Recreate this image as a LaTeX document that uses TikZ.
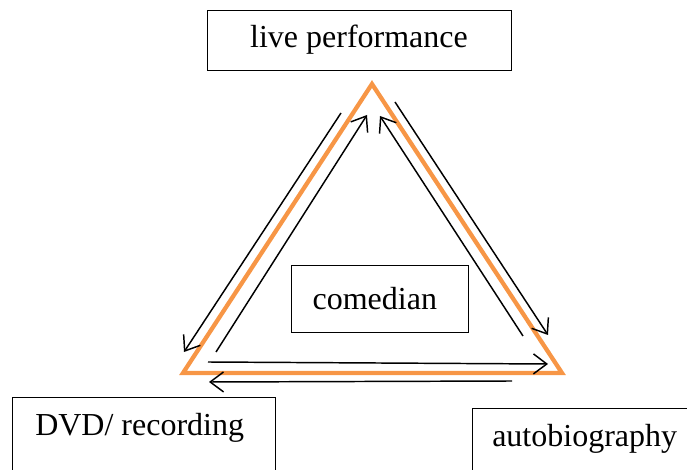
\documentclass[tikz,border=0pt]{standalone}
\usepackage{fontspec}
\setmainfont{Liberation Serif}
\usetikzlibrary{arrows.meta}
\definecolor{tri}{HTML}{F79646}
\begin{document}
\begin{tikzpicture}[x=0.75pt,y=-0.75pt,
  txt/.style={font=\fontsize{24}{26}\selectfont},
  box/.style={draw, line width=0.6pt, inner sep=0pt, txt},
  link/.style={line width=1.1pt, -{Straight Barb[length=10pt,width=15pt,line width=1.1pt]}},
  edge/.style={draw=tri, line width=3.2pt, line join=miter}]
\useasboundingbox (0,0) rectangle (687,470);
\clip (0,0) rectangle (687,470);
% boxes
\node[box, minimum width=304*0.75pt, minimum height=60*0.75pt] (live) at (359,40) {live performance};
\node[box, minimum width=177*0.75pt, minimum height=67*0.75pt] (com) at (379.5,298.5) {\hspace*{-7pt}comedian};
\draw[line width=0.6pt] (12,490) -- (12,397) -- (275,397) -- (275,490);
\node[txt, anchor=base west, inner sep=0pt] (dvd) at (35,436) {DVD/ recording};
\draw[line width=0.6pt] (472,490) -- (472,408) -- (690,408);
\node[txt, anchor=base west, inner sep=0pt] (auto) at (492,447) {autobiography};
% triangle
\coordinate (A) at (372,84);
\coordinate (B) at (183,373);
\coordinate (C) at (562,373);
\draw[edge] (A) -- (B) -- (C) -- cycle;
% arrow endpoints
\coordinate (l1s) at (341,113);
\coordinate (l1e) at (184,352);
\coordinate (l2s) at (216,352);
\coordinate (l2e) at (367,115);
\coordinate (r1s) at (395,102);
\coordinate (r1e) at (548,335);
\coordinate (r2s) at (523,336);
\coordinate (r2e) at (380,116);
\coordinate (b1s) at (208,362);
\coordinate (b1e) at (548,364);
\coordinate (b2s) at (512,381);
\coordinate (b2e) at (209,382);
\draw[link] (l1s) -- (l1e);
\draw[link] (l2s) -- (l2e);
\draw[link] (r1s) -- (r1e);
\draw[link] (r2s) -- (r2e);
\draw[link] (b1s) -- (b1e);
\draw[link] (b2s) -- (b2e);
\end{tikzpicture}
\end{document}
